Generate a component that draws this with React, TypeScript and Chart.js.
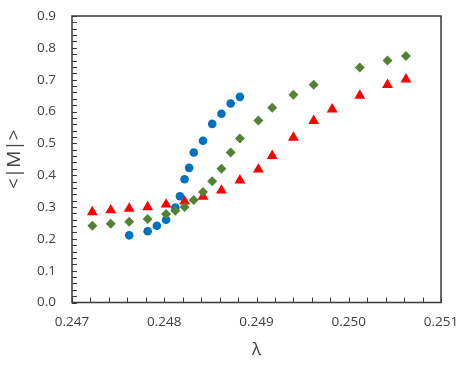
import React, { useEffect, useRef } from "react";
import { Chart, registerables } from "chart.js";

Chart.register(...registerables);

const blueX = [0.24762, 0.24782, 0.24792, 0.24802, 0.24812, 0.24817, 0.24822, 0.24827, 0.24832, 0.24842, 0.24852, 0.24862, 0.24872, 0.24882];
const blueY = [0.211, 0.224, 0.241, 0.26, 0.298, 0.334, 0.387, 0.423, 0.471, 0.508, 0.561, 0.593, 0.625, 0.646];

const greenX = [0.24722, 0.24742, 0.24762, 0.24782, 0.24802, 0.24812, 0.24822, 0.24832, 0.24842, 0.24852, 0.24862, 0.24872, 0.24882, 0.24902, 0.24917, 0.2494, 0.24962, 0.25012, 0.25042, 0.25062];
const greenY = [0.241, 0.247, 0.254, 0.262, 0.278, 0.288, 0.3, 0.322, 0.347, 0.381, 0.42, 0.471, 0.515, 0.572, 0.612, 0.653, 0.684, 0.738, 0.76, 0.774];

const redX = [0.24722, 0.24742, 0.24762, 0.24782, 0.24802, 0.24822, 0.24842, 0.24862, 0.24882, 0.24902, 0.24917, 0.2494, 0.24962, 0.24982, 0.25012, 0.25042, 0.25062];
const redY = [0.284, 0.29, 0.295, 0.3, 0.308, 0.318, 0.333, 0.352, 0.384, 0.418, 0.461, 0.518, 0.571, 0.607, 0.65, 0.684, 0.701];

const xTicks = [0.247, 0.248, 0.249, 0.25, 0.251];
const xLabels = ["0.247", "0.248", "0.249", "0.250", "0.251"];
const yTicks = [0, 0.1, 0.2, 0.3, 0.4, 0.5, 0.6, 0.7, 0.8, 0.9];

const X_MINOR = 0.0002;
const Y_MINOR = 0.02;

const toPts = (xs: number[], ys: number[]) => xs.map((x, i) => ({ x, y: ys[i] }));

const FONT = "'Open Sans', 'Liberation Sans', sans-serif";

const framePlugin = {
  id: "frame",
  afterDraw(chart: any) {
    const { ctx, chartArea: a, scales } = chart;
    const xs = scales.x;
    const ys = scales.y;
    ctx.save();
    ctx.strokeStyle = "#3a3a3a";
    ctx.lineWidth = 1;
    ctx.beginPath();
    const nx = Math.round((xs.max - xs.min) / X_MINOR);
    for (let i = 0; i <= nx; i++) {
      const px = Math.round(xs.getPixelForValue(xs.min + i * X_MINOR)) + 0.5;
      ctx.moveTo(px, a.bottom);
      ctx.lineTo(px, a.bottom - 5);
    }
    const ny = Math.round((ys.max - ys.min) / Y_MINOR);
    for (let i = 0; i <= ny; i++) {
      const py = Math.round(ys.getPixelForValue(ys.min + i * Y_MINOR)) + 0.5;
      ctx.moveTo(a.left, py);
      ctx.lineTo(a.left + 5, py);
    }
    ctx.stroke();
    ctx.lineWidth = 1.5;
    ctx.strokeRect(a.left, a.top, a.right - a.left, a.bottom - a.top);
    ctx.restore();
  },
};

export default function App() {
  const ref = useRef<HTMLCanvasElement | null>(null);
  useEffect(() => {
    document.body.style.margin = "0";
    const canvas = ref.current!;
    const chart = new Chart(canvas, {
      type: "scatter",
      data: {
        datasets: [
          {
            label: "green",
            data: toPts(greenX, greenY),
            pointStyle: "rectRot",
            pointRadius: 5,
            backgroundColor: "#548235",
            borderColor: "#548235",
            borderWidth: 0,
          },
          {
            label: "blue",
            data: toPts(blueX, blueY),
            pointStyle: "circle",
            pointRadius: 4.3,
            backgroundColor: "#0070C0",
            borderColor: "#0070C0",
            borderWidth: 0,
          },
          {
            label: "red",
            data: toPts(redX, redY),
            pointStyle: "triangle",
            pointRadius: 6.3,
            backgroundColor: "#FF0000",
            borderColor: "#FF0000",
            borderWidth: 0,
          },
        ],
      },
      options: {
        animation: false,
        responsive: false,
        maintainAspectRatio: false,
        layout: { padding: { left: 0, top: 16, right: 24, bottom: 0 } },
        plugins: { legend: { display: false }, tooltip: { enabled: false } },
        scales: {
          x: {
            type: "linear",
            min: 0.247,
            max: 0.251,
            afterBuildTicks: (s: any) => {
              s.ticks = xTicks.map((v) => ({ value: v }));
            },
            afterFit: (s: any) => {
              s.height = 63.5;
              s.paddingLeft = 0;
              s.paddingRight = 0;
            },
            ticks: {
              callback: (v: any) => {
                const i = xTicks.findIndex((t) => Math.abs(t - v) < 1e-9);
                return i >= 0 ? xLabels[i] : "";
              },
              font: { family: FONT, size: 13.5 },
              color: "#404040",
              padding: 12,
              maxRotation: 0,
            },
            grid: { display: false, drawTicks: false },
            border: { display: false },
            title: {
              display: true,
              text: "λ",
              font: { family: FONT, size: 17 },
              color: "#404040",
              padding: { top: 0, bottom: 6 },
            },
          },
          y: {
            type: "linear",
            min: 0,
            max: 0.9,
            afterBuildTicks: (s: any) => {
              s.ticks = yTicks.map((v) => ({ value: v }));
            },
            afterFit: (s: any) => {
              s.width = 72;
              s.paddingTop = 0;
              s.paddingBottom = 0;
            },
            ticks: {
              callback: (v: any) => Number(v).toFixed(1),
              font: { family: FONT, size: 13.5 },
              color: "#404040",
              padding: 16,
            },
            grid: { display: false, drawTicks: false },
            border: { display: false },
            title: {
              display: true,
              text: "<|M|>",
              font: { family: FONT, size: 19 },
              color: "#404040",
              padding: { top: 3.5, bottom: 0 },
            },
          },
        },
      },
      plugins: [framePlugin],
    });
    return () => chart.destroy();
  }, []);
  return (
    <div style={{ width: 465, height: 366 }}>
      <canvas ref={ref} width={465} height={366} style={{ display: "block" }} />
    </div>
  );
}
